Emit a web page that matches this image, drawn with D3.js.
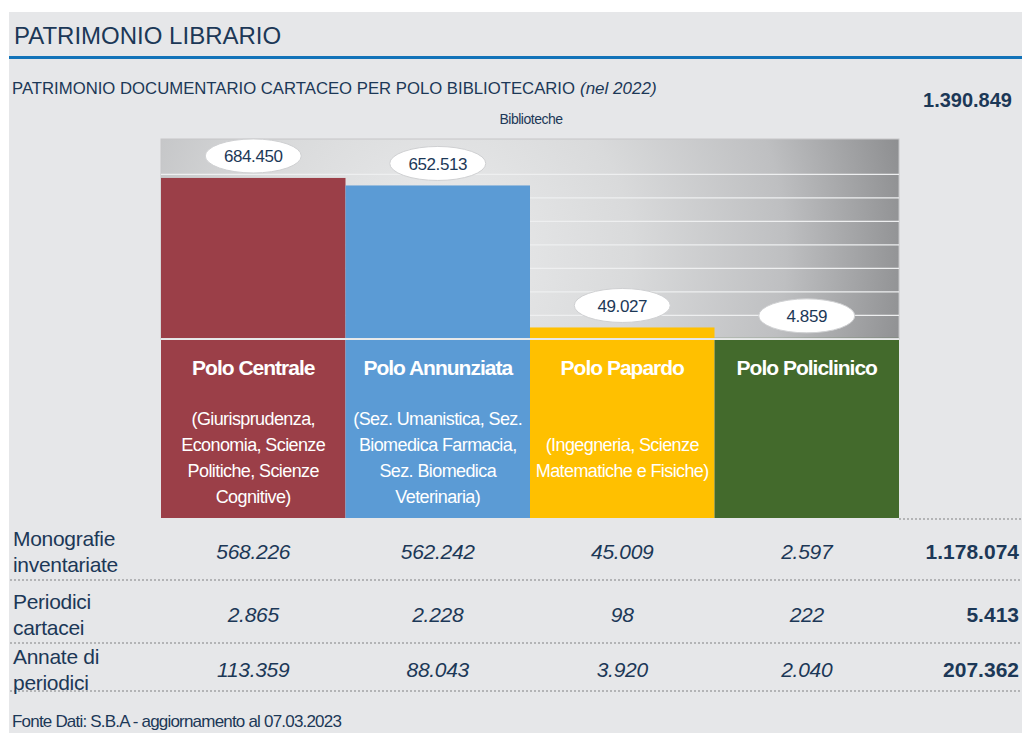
<!DOCTYPE html>
<html>
<head>
<meta charset="utf-8">
<script src="https://cdn.jsdelivr.net/npm/d3@7"></script>
<style>
  body { margin: 0; background: #fff; }
  text { font-family: "Liberation Sans", Arial, sans-serif; }
</style>
</head>
<body>
<div id="chart"></div>
<script>
// dati
const poli = ['Polo Centrale', 'Polo Annunziata', 'Polo Papardo', 'Polo Policlinico'];
const biblioteche = [684450, 652513, 49027, 4859];
const descrizioni = [
    ['(Giurisprudenza,', 'Economia, Scienze', 'Politiche, Scienze', 'Cognitive)'],
    ['(Sez. Umanistica, Sez.', 'Biomedica Farmacia,', 'Sez. Biomedica', 'Veterinaria)'],
    ['(Ingegneria, Scienze', 'Matematiche e Fisiche)'],
    []
];
const righe = [['Monografie', 'inventariate'], ['Periodici', 'cartacei'], ['Annate di', 'periodici']];
const monografie = [568226, 562242, 45009, 2597];
const periodici = [2865, 2228, 98, 222];
const annate = [113359, 88043, 3920, 2040];
const gridTicks = [100000, 200000, 300000, 400000, 500000, 600000, 700000];

const colori = ['#9b3f48', '#5b9bd5', '#ffc000', '#436a2c'];
const navy = '#1c3857';

const fmt = d3.formatLocale({ decimal: ',', thousands: '.', grouping: [3], currency: ['', '€'] }).format(',d');

const W = 1022, H = 733;
const svg = d3.select('#chart').append('svg').attr('width', W).attr('height', H);

// sfondo
svg.append('rect').attr('x', 9).attr('y', 12).attr('width', W - 9).attr('height', H - 12).attr('fill', '#e6e7e9');

svg.append('text')
    .attr('x', 14).attr('y', 44)
    .attr('font-size', 24).attr('fill', navy)
    .text('PATRIMONIO LIBRARIO');

svg.append('rect').attr('x', 9).attr('y', 56).attr('width', W - 9).attr('height', 3).attr('fill', '#1273b9');

const sub = svg.append('text').attr('x', 12).attr('y', 94).attr('font-size', 17).attr('fill', navy);
sub.append('tspan')
    .attr('textLength', 563).attr('lengthAdjust', 'spacingAndGlyphs')
    .text('PATRIMONIO DOCUMENTARIO CARTACEO PER POLO BIBLIOTECARIO');
sub.append('tspan').attr('dx', 5).attr('font-style', 'italic').text('(nel 2022)');

svg.append('text')
    .attr('x', 1012).attr('y', 107)
    .attr('text-anchor', 'end').attr('font-size', 20).attr('font-weight', 'bold').attr('fill', navy)
    .text(fmt(d3.sum(biblioteche)));

svg.append('text')
    .attr('x', 531).attr('y', 124)
    .attr('text-anchor', 'middle').attr('font-size', 14).attr('fill', navy)
    .attr('letter-spacing', -0.5)
    .text('Biblioteche');

// scale
const x = d3.scaleBand().domain(poli).range([161, 899]).padding(0);
const y = d3.scaleLinear().domain([0, 850000]).range([339, 139]);

const defs = svg.append('defs');
const grad = defs.append('radialGradient')
    .attr('id', 'bg').attr('gradientUnits', 'userSpaceOnUse')
    .attr('cx', 440).attr('cy', 255).attr('r', 480);
grad.append('stop').attr('offset', '0%').attr('stop-color', '#ebeced');
grad.append('stop').attr('offset', '40%').attr('stop-color', '#d9dadb');
grad.append('stop').attr('offset', '72%').attr('stop-color', '#bebfc1');
grad.append('stop').attr('offset', '100%').attr('stop-color', '#8b8c8e');

svg.append('rect')
    .attr('x', x.range()[0]).attr('y', y.range()[1])
    .attr('width', x.range()[1] - x.range()[0]).attr('height', y(0) - y.range()[1])
    .attr('fill', 'url(#bg)').attr('stroke', '#c5c6c8');

svg.append('g')
    .selectAll('line')
    .data(gridTicks.concat([0]))
    .join('line')
    .attr('x1', x.range()[0]).attr('x2', x.range()[1])
    .attr('y1', d => y(d)).attr('y2', d => y(d))
    .attr('stroke', '#eeeff0').attr('stroke-width', 1.3);

// barre
svg.append('g')
    .selectAll('rect')
    .data(poli)
    .join('rect')
    .attr('x', d => x(d))
    .attr('y', (d, i) => y(biblioteche[i]))
    .attr('width', x.bandwidth())
    .attr('height', (d, i) => y(0) - 1 - y(biblioteche[i]))
    .attr('fill', (d, i) => colori[i]);

// etichette ovali
const lab = svg.append('g')
    .selectAll('g')
    .data(poli)
    .join('g')
    .attr('transform', (d, i) => 'translate(' + (x(d) + x.bandwidth() / 2) + ',' + (y(biblioteche[i]) - 22) + ')');
lab.append('ellipse').attr('rx', 48).attr('ry', 17).attr('fill', '#fff').attr('stroke', '#cfd0d2');
lab.append('text')
    .attr('y', 6.5).attr('text-anchor', 'middle')
    .attr('font-size', 17).attr('fill', navy).attr('letter-spacing', -0.4)
    .text((d, i) => fmt(biblioteche[i]));

// pannelli
const pan = svg.append('g')
    .selectAll('g')
    .data(poli)
    .join('g')
    .attr('transform', d => 'translate(' + x(d) + ',0)');
pan.append('rect')
    .attr('y', 340).attr('width', x.bandwidth()).attr('height', 178)
    .attr('fill', (d, i) => colori[i]);
pan.append('text')
    .attr('x', x.bandwidth() / 2).attr('y', 375)
    .attr('text-anchor', 'middle').attr('font-size', 21).attr('font-weight', 'bold')
    .attr('letter-spacing', -1).attr('fill', '#fff')
    .text(d => d);
pan.each(function (d, i) {
    const lines = descrizioni[i];
    const y0 = 464 - (lines.length - 1) * 13;
    d3.select(this).selectAll('text.desc')
        .data(lines)
        .join('text')
        .attr('class', 'desc')
        .attr('x', x.bandwidth() / 2)
        .attr('y', (l, j) => y0 + j * 26)
        .attr('text-anchor', 'middle').attr('font-size', 18)
        .attr('letter-spacing', -0.6).attr('fill', '#fff')
        .text(l => l);
});

// tabella
const serie = [monografie, periodici, annate];
const rowBase = [559, 622, 677];
const sep = [580, 643, 691];

svg.append('line')
    .attr('x1', x.range()[1]).attr('x2', W).attr('y1', 519).attr('y2', 519)
    .attr('stroke', '#b3b4b6').attr('stroke-width', 2).attr('stroke-dasharray', '2,2');

svg.append('g')
    .selectAll('line')
    .data(sep)
    .join('line')
    .attr('x1', 10).attr('x2', W).attr('y1', d => d).attr('y2', d => d)
    .attr('stroke', '#b3b4b6').attr('stroke-width', 2).attr('stroke-dasharray', '2,2');

serie.forEach((vals, r) => {
    const g = svg.append('g');
    g.selectAll('text.lbl')
        .data(righe[r])
        .join('text')
        .attr('class', 'lbl')
        .attr('x', 13).attr('y', (l, j) => rowBase[r] - 13 + j * 26)
        .attr('font-size', 21).attr('fill', navy).attr('letter-spacing', -0.3)
        .text(l => l);
    g.selectAll('text.val')
        .data(poli)
        .join('text')
        .attr('class', 'val')
        .attr('x', d => x(d) + x.bandwidth() / 2).attr('y', rowBase[r])
        .attr('text-anchor', 'middle').attr('font-size', 21).attr('font-style', 'italic')
        .attr('fill', navy).attr('letter-spacing', -0.3)
        .text((d, i) => fmt(vals[i]));
    g.append('text')
        .attr('x', 1019).attr('y', rowBase[r])
        .attr('text-anchor', 'end').attr('font-size', 21).attr('font-weight', 'bold').attr('fill', navy)
        .text(fmt(d3.sum(vals)));
});

svg.append('text')
    .attr('x', 12).attr('y', 727)
    .attr('font-size', 17).attr('fill', navy).attr('letter-spacing', -0.8)
    .text('Fonte Dati: S.B.A - aggiornamento al 07.03.2023');
</script>
</body>
</html>
